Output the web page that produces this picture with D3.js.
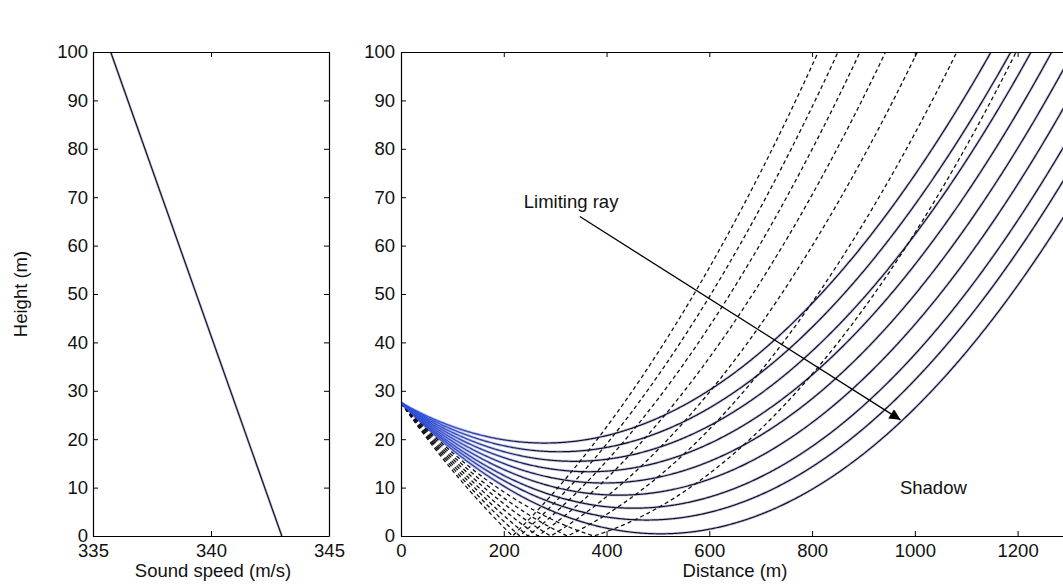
<!DOCTYPE html>
<html>
<head>
<meta charset="utf-8">
<script src="https://cdn.jsdelivr.net/npm/d3@7"></script>
<style>
  html, body { margin: 0; padding: 0; background: #ffffff; }
  svg { display: block; }
  text { font-family: "Liberation Sans", Arial, sans-serif; fill: #111; }
</style>
</head>
<body>
<svg id="chart" width="1063" height="585"></svg>
<script>
// Sound-speed profile: speed (m/s) at the ground and at the top of the domain
const profileHeights = [0, 100];
const profileSpeeds = [343.0, 335.75];

// Source height (m)
const sourceHeight = [27.5];

// Launch angles below horizontal (degrees)
const refractedAngles = [3.40, 3.75, 4.10, 4.45, 4.80, 5.15, 5.50, 5.80, 6.13];
const reflectedAngles = [6.47, 6.82, 7.16, 7.51, 7.85, 8.19, 8.54];

// Axis ticks
const speedTicks = [335, 340, 345];
const heightTicks = [0, 10, 20, 30, 40, 50, 60, 70, 80, 90, 100];
const distanceTicks = [0, 200, 400, 600, 800, 1000, 1200];

// Annotation: limiting-ray arrow (distance, height) and labels
const arrowFrom = [348, 66];
const arrowTo = [972, 24];
const limitingLabel = ["Limiting ray", 239, 67.8];
const shadowLabel = ["Shadow", 971, 8.7];

const svg = d3.select("#chart");
const fontSize = 18.5;

const plotTop = 52, plotBottom = 536;
const xSpeed = d3.scaleLinear().domain([335, 345]).range([93, 329]);
const yH = d3.scaleLinear().domain([0, 100]).range([plotBottom, plotTop]);
const xDist = d3.scaleLinear().domain([0, 1300]).range([401, 1069]);

// ---------- defs ----------
const defs = svg.append("defs");
defs.append("clipPath").attr("id", "clipR")
  .append("rect").attr("x", xDist(0)).attr("y", plotTop)
  .attr("width", xDist(1300) - xDist(0)).attr("height", plotBottom - plotTop);
defs.append("clipPath").attr("id", "clipL")
  .append("rect").attr("x", xSpeed(335)).attr("y", plotTop)
  .attr("width", xSpeed(345) - xSpeed(335)).attr("height", plotBottom - plotTop);

const grad = defs.append("linearGradient").attr("id", "rayGrad")
  .attr("gradientUnits", "userSpaceOnUse")
  .attr("x1", xDist(0)).attr("y1", 0).attr("x2", xDist(280)).attr("y2", 0);
grad.append("stop").attr("offset", 0).attr("stop-color", "#2a4fe0");
grad.append("stop").attr("offset", 0.4).attr("stop-color", "#3a4cb8");
grad.append("stop").attr("offset", 1).attr("stop-color", "#121220");

const haloGrad = defs.append("linearGradient").attr("id", "haloGrad")
  .attr("gradientUnits", "userSpaceOnUse")
  .attr("x1", xDist(0)).attr("y1", 0).attr("x2", xDist(280)).attr("y2", 0);
haloGrad.append("stop").attr("offset", 0).attr("stop-color", "#4a6cf0");
haloGrad.append("stop").attr("offset", 1).attr("stop-color", "#9c9cd4");

defs.append("marker").attr("id", "arrowHead")
  .attr("viewBox", "0 0 10 10").attr("refX", 10).attr("refY", 5)
  .attr("markerUnits", "userSpaceOnUse")
  .attr("markerWidth", 16).attr("markerHeight", 11)
  .attr("orient", "auto")
  .append("path").attr("d", "M0,0 L10,5 L0,10 Z").attr("fill", "#000");

// ---------- ray tracing in a linear sound-speed gradient ----------
const c0 = profileSpeeds[0];
const gradC = (profileSpeeds[0] - profileSpeeds[1]) / (profileHeights[1] - profileHeights[0]);
const zCenter = c0 / gradC;           // height at which c would vanish: circle centres
const zs = sourceHeight[0];

function tracePath(angleDeg) {
  const th = angleDeg * Math.PI / 180;
  const R = (zCenter - zs) / Math.cos(th);
  const xt = (zCenter - zs) * Math.tan(th);
  const zt = zCenter - R;
  const pts = [];
  const step = 2;
  const arc = (x, cx) => zCenter - Math.sqrt(Math.max(0, R * R - (x - cx) * (x - cx)));
  if (zt >= 0) {
    for (let x = 0; x <= 1300; x += step) {
      const z = arc(x, xt);
      pts.push([x, z]);
      if (z > 102) break;
    }
  } else {
    const xg = xt - Math.sqrt(R * R - zCenter * zCenter);
    for (let x = 0; x < xg; x += step) pts.push([x, arc(x, xt)]);
    pts.push([xg, 0]);
    const cx2 = 2 * xg - xt;      // mirrored arc after ground reflection
    for (let x = Math.ceil(xg / step) * step; x <= 1300; x += step) {
      const z = arc(x, cx2);
      pts.push([x, z]);
      if (z > 102) break;
    }
  }
  return pts;
}

const rayLine = d3.line().x(d => xDist(d[0])).y(d => yH(d[1]));

// ---------- left panel: sound speed profile ----------
const gL = svg.append("g");
const profile = profileHeights.map((h, i) => [profileSpeeds[i], h]);
const profLine = d3.line().x(d => xSpeed(d[0])).y(d => yH(d[1]));
gL.append("g").attr("clip-path", "url(#clipL)").call(g => {
  g.append("path").datum(profile).attr("d", profLine)
    .attr("fill", "none").attr("stroke", "#9c9cd4").attr("stroke-width", 2.6).attr("opacity", 0.6);
  g.append("path").datum(profile).attr("d", profLine)
    .attr("fill", "none").attr("stroke", "#121220").attr("stroke-width", 1.2);
});

function styleAxis(g) {
  g.selectAll("path.domain").attr("stroke", "#000").attr("stroke-width", 1.2);
  g.selectAll(".tick line").attr("stroke", "#000").attr("stroke-width", 1);
  g.selectAll(".tick text").attr("font-size", fontSize).attr("fill", "#111")
    .attr("font-family", "Liberation Sans, Arial, sans-serif");
}

gL.append("g").attr("transform", `translate(0,${plotBottom})`)
  .call(d3.axisBottom(xSpeed).tickValues(speedTicks).tickFormat(d3.format("d"))
    .tickSizeInner(-5).tickSizeOuter(0).tickPadding(8))
  .call(styleAxis);
gL.append("g").attr("transform", `translate(0,${plotTop})`)
  .call(d3.axisTop(xSpeed).tickValues(speedTicks).tickFormat("")
    .tickSizeInner(-5).tickSizeOuter(0))
  .call(styleAxis);
gL.append("g").attr("transform", `translate(${xSpeed(335)},0)`)
  .call(d3.axisLeft(yH).tickValues(heightTicks).tickFormat(d3.format("d"))
    .tickSizeInner(-5).tickSizeOuter(0).tickPadding(5))
  .call(styleAxis);
gL.append("g").attr("transform", `translate(${xSpeed(345)},0)`)
  .call(d3.axisRight(yH).tickValues(heightTicks).tickFormat("")
    .tickSizeInner(-5).tickSizeOuter(0))
  .call(styleAxis);

gL.append("text").attr("x", 213).attr("y", 577)
  .attr("text-anchor", "middle").attr("font-size", fontSize).text("Sound speed (m/s)");
gL.append("text").attr("transform", `translate(27,${(plotTop + plotBottom) / 2}) rotate(-90)`)
  .attr("text-anchor", "middle").attr("font-size", fontSize).text("Height (m)");

// ---------- right panel: ray paths ----------
const gR = svg.append("g");
const rays = gR.append("g").attr("clip-path", "url(#clipR)");

const refracted = refractedAngles.map(tracePath);
const reflected = reflectedAngles.map(tracePath);

rays.selectAll("path.halo").data(refracted).join("path").attr("class", "halo")
  .attr("d", rayLine).attr("fill", "none")
  .attr("stroke", "url(#haloGrad)").attr("stroke-width", 2.8).attr("opacity", 0.55);

rays.selectAll("path.reflected").data(reflected).join("path").attr("class", "reflected")
  .attr("d", rayLine).attr("fill", "none")
  .attr("stroke", "#111").attr("stroke-width", 1.3).attr("stroke-dasharray", "4,3");

rays.selectAll("path.refracted").data(refracted).join("path").attr("class", "refracted")
  .attr("d", rayLine).attr("fill", "none")
  .attr("stroke", "url(#rayGrad)").attr("stroke-width", 1.2);

gR.append("g").attr("transform", `translate(0,${plotBottom})`)
  .call(d3.axisBottom(xDist).tickValues(distanceTicks).tickFormat(d3.format("d"))
    .tickSizeInner(-5).tickSizeOuter(0).tickPadding(8))
  .call(styleAxis);
gR.append("g").attr("transform", `translate(0,${plotTop})`)
  .call(d3.axisTop(xDist).tickValues(distanceTicks).tickFormat("")
    .tickSizeInner(-5).tickSizeOuter(0))
  .call(styleAxis);
gR.append("g").attr("transform", `translate(${xDist(0)},0)`)
  .call(d3.axisLeft(yH).tickValues(heightTicks).tickFormat(d3.format("d"))
    .tickSizeInner(-5).tickSizeOuter(0).tickPadding(6))
  .call(styleAxis);

gR.append("text").attr("x", 735).attr("y", 577)
  .attr("text-anchor", "middle").attr("font-size", fontSize).text("Distance (m)");

// annotations
gR.append("line")
  .attr("x1", xDist(arrowFrom[0])).attr("y1", yH(arrowFrom[1]))
  .attr("x2", xDist(arrowTo[0])).attr("y2", yH(arrowTo[1]))
  .attr("stroke", "#000").attr("stroke-width", 1.3)
  .attr("marker-end", "url(#arrowHead)");
gR.append("text").attr("x", xDist(limitingLabel[1])).attr("y", yH(limitingLabel[2]))
  .attr("font-size", fontSize).text(limitingLabel[0]);
gR.append("text").attr("x", xDist(shadowLabel[1])).attr("y", yH(shadowLabel[2]))
  .attr("font-size", fontSize).text(shadowLabel[0]);
</script>
</body>
</html>
